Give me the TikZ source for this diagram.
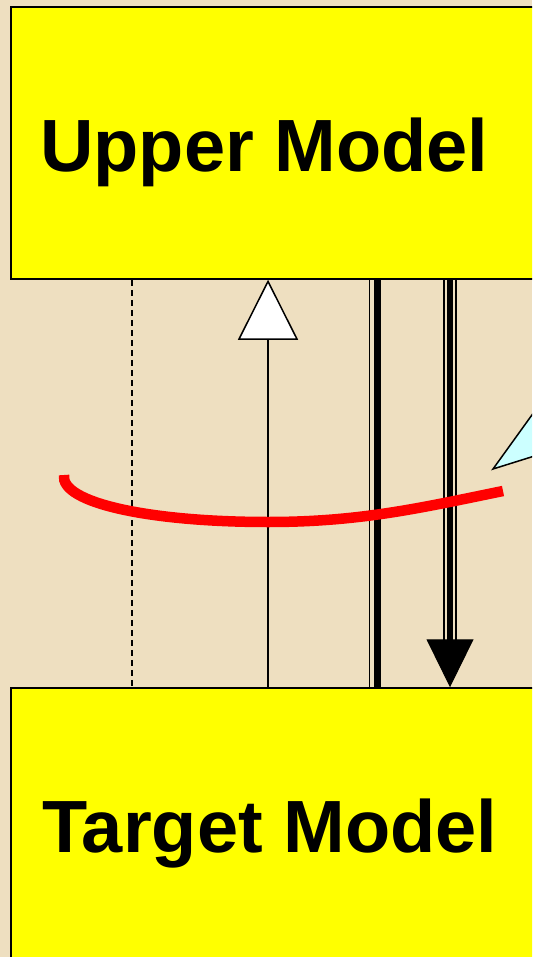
\documentclass[tikz,border=0pt]{standalone}
\usepackage{fontspec}
\setmainfont{Liberation Sans}
\usetikzlibrary{arrows.meta}
\definecolor{parchment}{RGB}{238,223,192}
\definecolor{modelyellow}{RGB}{255,255,0}
\definecolor{calloutcyan}{RGB}{204,255,255}
\definecolor{linkred}{RGB}{255,0,0}

\begin{document}
\begin{tikzpicture}[x=1pt, y=-1pt,
  modelbox/.style={draw, line width=1.5pt, fill=modelyellow, inner sep=0pt},
  modellabel/.style={anchor=base west, inner sep=0pt, font=\fontsize{74}{80}\selectfont\bfseries}]
  \useasboundingbox (0,0) rectangle (532,957);
  \clip (0,0) rectangle (532,957);
  \fill[parchment] (0,0) rectangle (532,957);

  \node[modelbox, minimum width=549pt, minimum height=272pt] (upper) at (285.5,143) {};
  \node[modelbox, minimum width=549pt, minimum height=312pt] (target) at (285.5,844) {};
  \node[modellabel] (uppertext) at (40,172) {Upper Model};
  \node[modellabel] (targettext) at (42,852) {Target Model};

  \coordinate (dashx) at (132,0);
  \coordinate (upx) at (268,0);
  \coordinate (thinx) at (369.5,0);
  \coordinate (thickx) at (377,0);
  \coordinate (downl) at (444,641);
  \coordinate (downx) at (450,0);
  \coordinate (downr) at (456,641);

  \draw[dash pattern=on 6pt off 4pt, line width=1.2pt] (upper.south -| dashx) -- (target.north -| dashx);
  \draw[line width=1.2pt, -{Triangle[length=60pt, width=60pt, fill=white, line width=1.5pt]}]
    (target.north -| upx) -- (upper.south -| upx);
  \draw[line width=1.8pt] (upper.south -| thinx) -- (target.north -| thinx);
  \draw[line width=7pt] (upper.south -| thickx) -- (target.north -| thickx);
  \draw[line width=2.2pt] (upper.south -| downl) -- (downl);
  \draw[line width=2.2pt] (upper.south -| downr) -- (downr);
  \draw[line width=6pt, -{Triangle[length=48pt, width=47pt, line width=1pt]}]
    (upper.south -| downx) -- (target.north -| downx);

  \draw[linkred, line width=10.5pt] (64,475) .. controls (60,503) and (150,522) .. (268,522)
    .. controls (360,522) and (420,508) .. (503,491);
  \filldraw[fill=calloutcyan, line width=1.5pt] (493,469) -- (560,376) -- (560,448) -- cycle;
\end{tikzpicture}
\end{document}
